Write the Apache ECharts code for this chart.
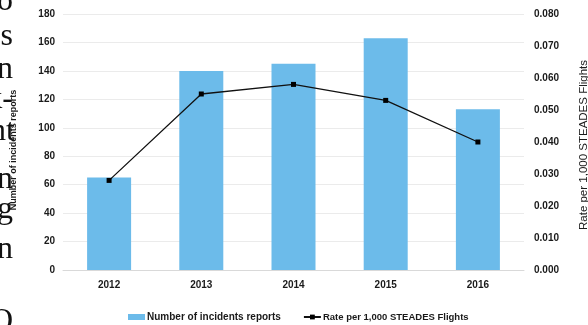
<!DOCTYPE html>
<html>
<head>
<meta charset="utf-8">
<script src="https://cdn.jsdelivr.net/npm/echarts@6/dist/echarts.min.js"></script>
<style>
  html, body { margin: 0; padding: 0; background: #fff; }
  #chart { width: 588px; height: 325px; }
</style>
</head>
<body>
<div id="chart"></div>
<script>
// data
const years = ['2012', '2013', '2014', '2015', '2016'];
const incidentReports = [65, 140, 145, 163, 113];
const ratePer1000 = [0.028, 0.055, 0.058, 0.053, 0.040];

// clipped body text of the page the chart sits in (left edge)
const marginText = ['o', "'s", 'n', 'k-', 'nt', 'n', 'g', 'n', 'O'];
const marginBaselines = [10, 45, 78, 108, 140, 188, 218, 258, 330];

const chart = echarts.init(document.getElementById('chart'), null, { renderer: 'canvas' });

const labelFont = { fontFamily: 'Liberation Sans', fontWeight: 'bold', fontSize: 10, color: '#1a1a1a' };

chart.setOption({
  animation: false,
  grid: { left: 63, right: 64, top: 14, bottom: 55, outerBoundsMode: 'none' },
  graphic: marginText.map((t, i) => ({
    type: 'text',
    silent: true,
    style: {
      text: t,
      x: i === 4 ? 15 : 13,
      y: marginBaselines[i] + 8,
      textAlign: 'right',
      textVerticalAlign: 'bottom',
      font: '32px "Liberation Serif"',
      fill: '#111'
    }
  })),
  legend: {
    bottom: 3,
    left: 128,
    padding: 0,
    itemWidth: 17,
    itemHeight: 6,
    itemGap: 22,
    textStyle: { fontFamily: 'Liberation Sans', fontWeight: 'bold', fontSize: 10, color: '#1a1a1a', padding: [0, 0, 0, -3] },
    data: [
      { name: 'Number of incidents reports', icon: 'rect' },
      { name: 'Rate per 1,000 STEADES Flights', textStyle: { fontSize: 9.5 } }
    ]
  },
  xAxis: {
    type: 'category',
    data: years,
    axisTick: { show: false },
    axisLine: { lineStyle: { color: '#d9d9d9' } },
    axisLabel: Object.assign({ margin: 10 }, labelFont)
  },
  yAxis: [
    {
      type: 'value',
      min: 0,
      max: 180,
      interval: 20,
      name: 'Number of incidents reports',
      nameLocation: 'middle',
      nameRotate: 90,
      nameGap: 45,
      nameTextStyle: { fontFamily: 'Liberation Sans', fontWeight: 'bold', fontSize: 9, color: '#1a1a1a', padding: [0, 16, 0, 0] },
      axisLine: { show: false },
      axisTick: { show: false },
      splitLine: { lineStyle: { color: '#ebebeb' } },
      axisLabel: Object.assign({ margin: 8 }, labelFont)
    },
    {
      type: 'value',
      min: 0,
      max: 0.08,
      interval: 0.01,
      name: 'Rate per 1,000 STEADES Flights',
      nameLocation: 'middle',
      nameRotate: 90,
      nameGap: 54,
      nameTextStyle: { fontFamily: 'Liberation Sans', fontSize: 11.5, color: '#1a1a1a', padding: [0, 6, 0, 0] },
      axisLine: { show: false },
      axisTick: { show: false },
      splitLine: { show: false },
      axisLabel: Object.assign({ margin: 10, formatter: v => v.toFixed(3) }, labelFont)
    }
  ],
  series: [
    {
      name: 'Number of incidents reports',
      type: 'bar',
      data: incidentReports,
      barWidth: 44,
      itemStyle: { color: '#6cbbea' }
    },
    {
      name: 'Rate per 1,000 STEADES Flights',
      type: 'line',
      yAxisIndex: 1,
      data: ratePer1000,
      symbol: 'rect',
      symbolSize: 5,
      lineStyle: { color: '#111', width: 1.3 },
      itemStyle: { color: '#000' }
    }
  ]
});
</script>
</body>
</html>
